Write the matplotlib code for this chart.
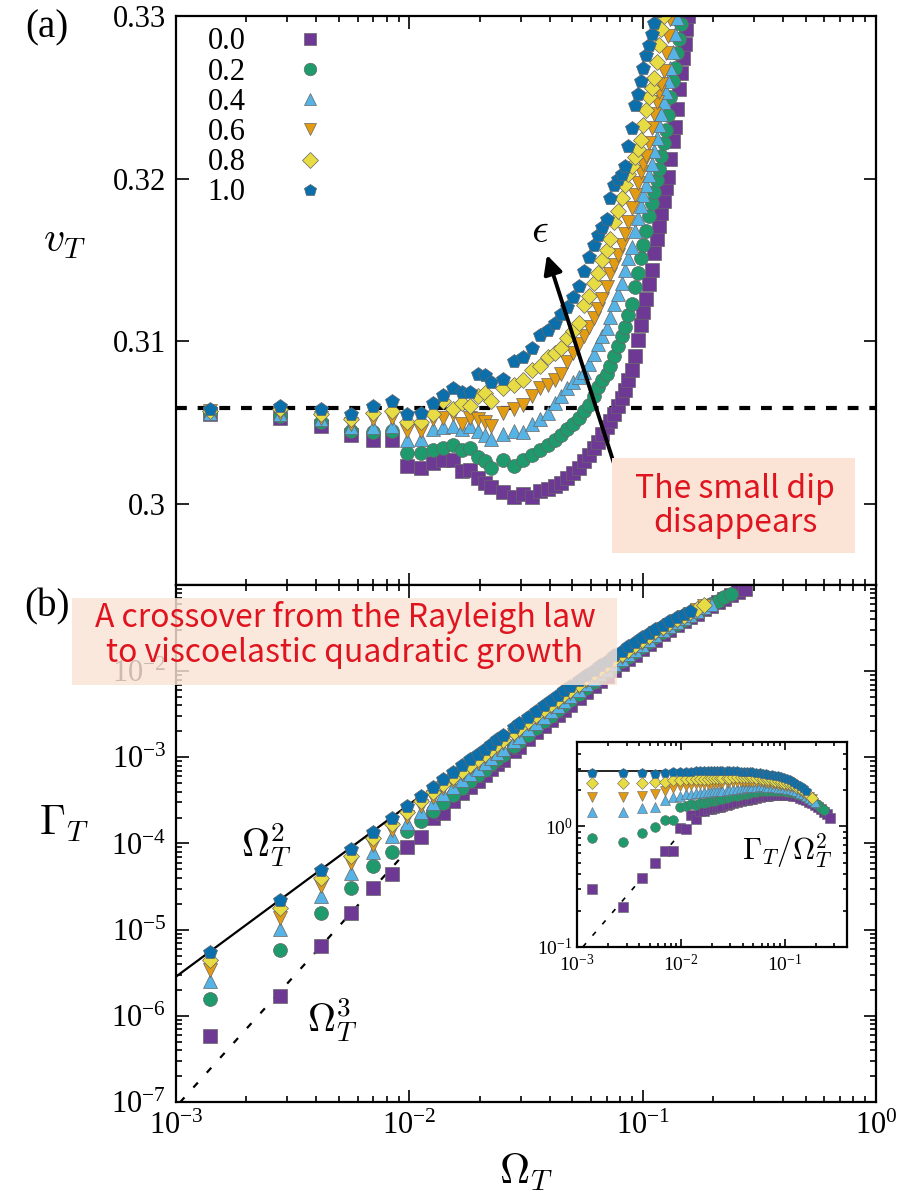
import math
import matplotlib
matplotlib.use('Agg')
import matplotlib.pyplot as plt
from matplotlib.patches import Rectangle
from matplotlib.ticker import LogLocator, FixedLocator, FuncFormatter, NullFormatter

plt.rcParams['font.family'] = ['Liberation Serif', 'DejaVu Serif']
plt.rcParams['mathtext.fontset'] = 'cm'

# frequency grid: Omega_T = n * d_omega
d_omega = 0.0014
n_top = list(range(1, 17)) + list(range(18, 117, 2))
n_bot = list(range(1, 19)) + [20, 21, 23, 25, 27, 29, 31, 33, 35, 38, 41, 44, 47, 50, 54, 58,
                              62, 66, 71, 76, 81, 87, 93, 100, 107, 114, 122, 131, 140, 150,
                              160, 171, 183, 196]

eps_labels = ['0.0', '0.2', '0.4', '0.6', '0.8', '1.0']
colors = ['#6e3895', '#1f9a6d', '#56b3e6', '#e39b12', '#e8dc44', '#0b6fac']
markers = ['s', 'o', '^', 'v', 'D', 'p']

# (a) phase velocity v_T
v_00 = [0.3055, 0.3053, 0.3048, 0.3042, 0.3039, 0.3039, 0.3023, 0.3022, 0.3025, 0.3027, 0.3027,
        0.3020, 0.3021, 0.3016, 0.3013, 0.3010,
        0.3007, 0.3004, 0.3006, 0.3004, 0.3008, 0.3009, 0.3011, 0.3013, 0.3016, 0.3019, 0.3022,
        0.3026, 0.3030, 0.3034, 0.3038, 0.3043, 0.3047, 0.3051, 0.3055, 0.3060, 0.3065, 0.3070,
        0.3076, 0.3082, 0.3091, 0.3101, 0.3110, 0.3118, 0.3126, 0.3135, 0.3144, 0.3154, 0.3163,
        0.3171, 0.3179, 0.3186, 0.3194, 0.3201, 0.3212, 0.3223, 0.3232, 0.3243, 0.3255, 0.3265,
        0.3274, 0.3283, 0.3292, 0.3300, 0.3309, 0.3318]
v_02 = [0.3056, 0.3054, 0.3050, 0.3045, 0.3044, 0.3045, 0.3031, 0.3031, 0.3033, 0.3034, 0.3036,
        0.3033, 0.3034, 0.3029, 0.3026, 0.3022,
        0.3027, 0.3023, 0.3027, 0.3030, 0.3033, 0.3036, 0.3039, 0.3042, 0.3046, 0.3049, 0.3053,
        0.3057, 0.3061, 0.3066, 0.3072, 0.3076, 0.3080, 0.3085, 0.3091, 0.3097, 0.3103, 0.3109,
        0.3116, 0.3123, 0.3133, 0.3142, 0.3151, 0.3159, 0.3168, 0.3177, 0.3185, 0.3192, 0.3199,
        0.3206, 0.3214, 0.3222, 0.3230, 0.3239, 0.3250, 0.3260, 0.3268, 0.3277, 0.3286, 0.3295,
        0.3304, 0.3312]
v_04 = [0.3056, 0.3055, 0.3052, 0.3047, 0.3047, 0.3048, 0.3039, 0.3040, 0.3046, 0.3047, 0.3048,
        0.3046, 0.3048, 0.3045, 0.3042, 0.3040,
        0.3043, 0.3045, 0.3044, 0.3049, 0.3052, 0.3056, 0.3062, 0.3066, 0.3071, 0.3075, 0.3078,
        0.3081, 0.3086, 0.3092, 0.3098, 0.3103, 0.3108, 0.3115, 0.3123, 0.3129, 0.3136, 0.3144,
        0.3151, 0.3158, 0.3168, 0.3176, 0.3183, 0.3190, 0.3196, 0.3202, 0.3209, 0.3217, 0.3225,
        0.3233, 0.3240, 0.3247, 0.3253, 0.3260, 0.3268, 0.3278, 0.3289, 0.3299, 0.3308]
v_06 = [0.3057, 0.3056, 0.3053, 0.3049, 0.3052, 0.3053, 0.3045, 0.3045, 0.3052, 0.3053, 0.3055,
        0.3049, 0.3053, 0.3052, 0.3050, 0.3048,
        0.3056, 0.3058, 0.3061, 0.3066, 0.3071, 0.3073, 0.3076, 0.3080, 0.3087, 0.3093, 0.3098,
        0.3103, 0.3109, 0.3114, 0.3120, 0.3126, 0.3133, 0.3141, 0.3147, 0.3153, 0.3159, 0.3166,
        0.3173, 0.3182, 0.3190, 0.3197, 0.3204, 0.3209, 0.3214, 0.3222, 0.3231, 0.3240, 0.3247,
        0.3253, 0.3258, 0.3266, 0.3277, 0.3288, 0.3298, 0.3307]
v_08 = [0.3057, 0.3058, 0.3055, 0.3052, 0.3056, 0.3057, 0.3050, 0.3050, 0.3055, 0.3063, 0.3058,
        0.3062, 0.3060, 0.3066, 0.3068, 0.3063,
        0.3071, 0.3073, 0.3076, 0.3082, 0.3085, 0.3090, 0.3093, 0.3096, 0.3102, 0.3106, 0.3111,
        0.3122, 0.3128, 0.3136, 0.3142, 0.3150, 0.3156, 0.3163, 0.3173, 0.3180, 0.3188, 0.3196,
        0.3203, 0.3208, 0.3213, 0.3218, 0.3224, 0.3233, 0.3242, 0.3250, 0.3256, 0.3262, 0.3272,
        0.3282, 0.3292, 0.3300, 0.3309]
v_10 = [0.3058, 0.3060, 0.3058, 0.3055, 0.3060, 0.3063, 0.3055, 0.3056, 0.3062, 0.3067, 0.3071,
        0.3069, 0.3069, 0.3080, 0.3079, 0.3075,
        0.3077, 0.3088, 0.3090, 0.3096, 0.3104, 0.3107, 0.3111, 0.3117, 0.3121, 0.3127, 0.3134,
        0.3143, 0.3152, 0.3159, 0.3165, 0.3170, 0.3175, 0.3188, 0.3196, 0.3200, 0.3203, 0.3208,
        0.3220, 0.3231, 0.3245, 0.3252, 0.3260, 0.3268, 0.3276, 0.3282, 0.3289, 0.3296, 0.3303,
        0.3311]
v_series = [v_00, v_02, v_04, v_06, v_08, v_10]
v_rayleigh = 0.3059

# (b) growth rate, stored as Gamma_T / Omega_T^2 (the inset quantity)
r_00 = [0.30, 0.214, 0.37, 0.495, 0.62, 0.63, 0.96, 0.95, 1.23, 1.16, 1.33, 1.35, 1.38, 1.40,
        1.42, 1.44, 1.46, 1.48,
        1.51, 1.53, 1.56, 1.59, 1.62, 1.64, 1.66, 1.68, 1.70, 1.72, 1.75, 1.77, 1.78, 1.80, 1.81,
        1.82, 1.82, 1.82, 1.82, 1.82, 1.81, 1.80, 1.77, 1.73, 1.69, 1.65, 1.60, 1.55, 1.50, 1.44,
        1.38, 1.32, 1.26, 1.18]
r_02 = [0.80, 0.74, 0.875, 0.98, 1.12, 1.12, 1.44, 1.47, 1.52, 1.50, 1.55, 1.57, 1.59, 1.61,
        1.63, 1.65, 1.67, 1.69,
        1.72, 1.74, 1.77, 1.80, 1.83, 1.85, 1.87, 1.89, 1.91, 1.93, 1.95, 1.96, 1.97, 1.97, 1.97,
        1.97, 1.96, 1.96, 1.95, 1.94, 1.93, 1.91, 1.87, 1.82, 1.77, 1.72, 1.67, 1.61, 1.55, 1.49,
        1.43, 1.37]
r_04 = [1.31, 1.31, 1.41, 1.44, 1.64, 1.74, 1.80, 1.84, 1.87, 1.89, 1.90, 1.91, 1.92, 1.93,
        1.95, 1.96, 1.97, 1.98,
        2.00, 2.01, 2.03, 2.05, 2.07, 2.09, 2.10, 2.11, 2.12, 2.13, 2.14, 2.14, 2.13, 2.12, 2.11,
        2.10, 2.09, 2.08, 2.06, 2.05, 2.03, 2.01, 1.96, 1.90, 1.84, 1.78, 1.72, 1.65, 1.58]
r_06 = [1.74, 1.74, 1.80, 1.87, 1.98, 2.06, 2.14, 2.18, 2.21, 2.23, 2.24, 2.25, 2.25, 2.26,
        2.27, 2.28, 2.29, 2.30,
        2.31, 2.32, 2.33, 2.34, 2.35, 2.35, 2.35, 2.35, 2.34, 2.33, 2.32, 2.31, 2.29, 2.27, 2.25,
        2.23, 2.21, 2.19, 2.17, 2.15, 2.13, 2.10, 2.04, 1.97, 1.90, 1.83, 1.76, 1.69]
r_08 = [2.27, 2.27, 2.27, 2.31, 2.35, 2.40, 2.43, 2.45, 2.47, 2.48, 2.48, 2.49, 2.49, 2.50,
        2.50, 2.51, 2.51, 2.52,
        2.53, 2.53, 2.54, 2.54, 2.55, 2.55, 2.55, 2.55, 2.54, 2.53, 2.51, 2.49, 2.47, 2.45, 2.42,
        2.39, 2.36, 2.33, 2.30, 2.27, 2.25, 2.21, 2.13, 2.05, 1.97, 1.89, 1.81, 1.73]
r_10 = [2.79, 2.79, 2.79, 2.74, 2.79, 2.80, 2.82, 2.83, 2.84, 2.85, 2.85, 2.86, 2.86, 2.86,
        2.86, 2.86, 2.86, 2.86,
        2.86, 2.86, 2.85, 2.85, 2.84, 2.84, 2.83, 2.82, 2.81, 2.79, 2.77, 2.74, 2.71, 2.68, 2.66,
        2.63, 2.60, 2.55, 2.50, 2.45, 2.40, 2.33, 2.25, 2.17, 2.08, 1.98]
r_series = [r_00, r_02, r_04, r_06, r_08, r_10]

# guide lines: Gamma = c2 * Omega^2 (Rayleigh) and c3 * Omega^3
c_quad = 2.85
c_cubic = 88.0
quad_range = [1e-3, 1.1e-2]
cubic_range = [1.04e-3, 9.6e-3]

W, H = 910, 1197
fig = plt.figure(figsize=(W / 100, H / 100), dpi=100)


def fx(px):
    return px / W


def fy(py):
    return 1 - py / H


def style_axes(ax, size, major_len=9, minor_len=4.5):
    for s in ax.spines.values():
        s.set_linewidth(1.6)
    ax.tick_params(which='both', direction='in', top=True, right=True, width=1.2,
                   labelsize=size, pad=7)
    ax.tick_params(which='major', length=major_len)
    ax.tick_params(which='minor', length=minor_len)


def pow_fmt(v, pos):
    return r'$\mathregular{10^{%d}}$' % round(math.log10(v))


ax_top = fig.add_axes([fx(176), fy(585), fx(700), 569 / H])
ax_bot = fig.add_axes([fx(176), fy(1102), fx(700), 517 / H])
ax_in = fig.add_axes([fx(577), fy(947), fx(270), 205 / H])

# ---- panel (a)
om_top = [d_omega * n for n in n_top]
for v, c, m, lab in zip(v_series, colors, markers, eps_labels):
    ms = 8.5 if m == 'D' else 10
    ax_top.plot(om_top[:len(v)], v, ls='none', marker=m, ms=ms, mfc=c, mec='0.4', mew=0.5,
                label=lab)
ax_top.axhline(v_rayleigh, color='k', lw=3, ls=(0, (2.6, 2.6)), zorder=1)
ax_top.set_xscale('log')
ax_top.set_xlim(1e-3, 1)
ax_top.set_ylim(0.295, 0.33)
ax_top.yaxis.set_major_locator(FixedLocator([0.30, 0.31, 0.32, 0.33]))
ax_top.yaxis.set_major_formatter(FuncFormatter(lambda v, p: '%g' % round(v, 3)))
ax_top.xaxis.set_major_locator(LogLocator(base=10, numticks=10))
ax_top.xaxis.set_minor_locator(LogLocator(base=10, subs=range(2, 10), numticks=40))
ax_top.xaxis.set_major_formatter(NullFormatter())
ax_top.xaxis.set_minor_formatter(NullFormatter())
style_axes(ax_top, 22)
ax_top.set_ylabel(r'$v_T$', fontsize=30, rotation=0)
ax_top.yaxis.set_label_coords(-0.16, 0.57)

leg = ax_top.legend(loc='upper left', bbox_to_anchor=(0.045, 0.98), frameon=False,
                    markerfirst=False, handlelength=0.8, handletextpad=1.7, labelspacing=0.04,
                    fontsize=22, borderaxespad=0, borderpad=0, markerscale=0.9)

ax_top.annotate('', xy=(0.0389, 0.3153), xytext=(0.083, 0.3006),
                arrowprops=dict(arrowstyle='-|>', lw=2.8, color='k', mutation_scale=28,
                                shrinkA=0, shrinkB=0))
ax_top.text(0.0363, 0.3167, r'$\epsilon$', fontsize=30, ha='center', va='center')

# ---- panel (b)
om_bot = [d_omega * n for n in n_bot]
for r, c, m in zip(r_series, colors, markers):
    om = om_bot[:len(r)]
    gam = [ri * o ** 2 for ri, o in zip(r, om)]
    ms = 8.5 if m == 'D' else 10
    ax_bot.plot(om, gam, ls='none', marker=m, ms=ms, mfc=c, mec='0.4', mew=0.5)
    ms_in = 6 if m == 'D' else 7
    ax_in.plot(om, r, ls='none', marker=m, ms=ms_in, mfc=c, mec='0.4', mew=0.4)

ax_bot.plot(quad_range, [c_quad * o ** 2 for o in quad_range], color='k', lw=1.6, zorder=1)
ax_bot.plot(cubic_range, [c_cubic * o ** 3 for o in cubic_range], color='k', lw=1.6,
            ls=(0, (3, 6)), zorder=1)
ax_bot.set_xscale('log')
ax_bot.set_yscale('log')
ax_bot.set_xlim(1e-3, 1)
ax_bot.set_ylim(1e-7, 1e-1)
ax_bot.xaxis.set_major_locator(FixedLocator([1e-3, 1e-2, 1e-1, 1]))
ax_bot.xaxis.set_minor_locator(LogLocator(base=10, subs=range(2, 10), numticks=40))
ax_bot.xaxis.set_major_formatter(FuncFormatter(pow_fmt))
ax_bot.xaxis.set_minor_formatter(NullFormatter())
ax_bot.yaxis.set_major_locator(FixedLocator([1e-7, 1e-6, 1e-5, 1e-4, 1e-3, 1e-2]))
ax_bot.yaxis.set_minor_locator(LogLocator(base=10, subs=range(2, 10), numticks=40))
ax_bot.yaxis.set_major_formatter(FuncFormatter(pow_fmt))
ax_bot.yaxis.set_minor_formatter(NullFormatter())
style_axes(ax_bot, 22)
ax_bot.set_xlabel(r'$\Omega_T$', fontsize=30, labelpad=8)
ax_bot.set_ylabel(r'$\Gamma_T$', fontsize=30, rotation=0)
ax_bot.yaxis.set_label_coords(-0.16, 0.5)

ax_bot.text(0.00245, 9.5e-5, r'$\Omega_T^2$', fontsize=28, ha='center', va='center')
ax_bot.text(0.00467, 9.0e-7, r'$\Omega_T^3$', fontsize=28, ha='center', va='center')

# ---- inset
ax_in.plot([1e-3, quad_range[1] * 0.9], [c_quad, c_quad], color='k', lw=1.2, zorder=1)
ax_in.plot([0.1 / c_cubic, cubic_range[1]], [0.1, c_cubic * cubic_range[1]], color='k', lw=1.2,
           ls=(0, (3, 6)), zorder=1)
ax_in.set_xscale('log')
ax_in.set_yscale('log')
ax_in.set_xlim(1e-3, 0.4)
ax_in.set_ylim(0.1, 5)
ax_in.xaxis.set_major_locator(FixedLocator([1e-3, 1e-2, 1e-1]))
ax_in.xaxis.set_minor_locator(LogLocator(base=10, subs=range(2, 10), numticks=40))
ax_in.xaxis.set_major_formatter(FuncFormatter(pow_fmt))
ax_in.xaxis.set_minor_formatter(NullFormatter())
ax_in.yaxis.set_major_locator(FixedLocator([0.1, 1]))
ax_in.yaxis.set_minor_locator(LogLocator(base=10, subs=range(2, 10), numticks=40))
ax_in.yaxis.set_major_formatter(FuncFormatter(pow_fmt))
ax_in.yaxis.set_minor_formatter(NullFormatter())
style_axes(ax_in, 14, major_len=6, minor_len=3)
ax_in.tick_params(axis='x', pad=5)
ax_in.tick_params(axis='y', pad=3)
ax_in.text(0.78, 0.47, r'$\Gamma_T/\Omega_T^2$', transform=ax_in.transAxes, fontsize=22,
           ha='center', va='center')

# panel tags
fig.text(fx(47), fy(28), '(a)', fontsize=28, ha='center', va='center')
fig.text(fx(47), fy(607), '(b)', fontsize=28, ha='center', va='center')

# annotation boxes
box_font = ['Noto Sans CJK JP', 'DejaVu Sans']
fig.add_artist(Rectangle((fx(612), fy(553)), fx(855) - fx(612), fy(458) - fy(553),
                         transform=fig.transFigure, facecolor='#fbe3d6', edgecolor='none',
                         zorder=5))
fig.text(fx(735), fy(506), 'The small dip\ndisappears', fontsize=23, color='#e0141e',
         ha='center', va='center', linespacing=1.1, family=box_font, zorder=6)
fig.add_artist(Rectangle((fx(72), fy(685)), fx(617) - fx(72), fy(598) - fy(685),
                         transform=fig.transFigure, facecolor='#fbe3d6', edgecolor='none',
                         alpha=0.82, zorder=5))
fig.text(fx(345), fy(635), 'A crossover from the Rayleigh law\nto viscoelastic quadratic growth',
         fontsize=23, color='#e0141e', ha='center', va='center', linespacing=1.15,
         family=box_font, zorder=6)

fig.savefig('out.png', dpi=100)
